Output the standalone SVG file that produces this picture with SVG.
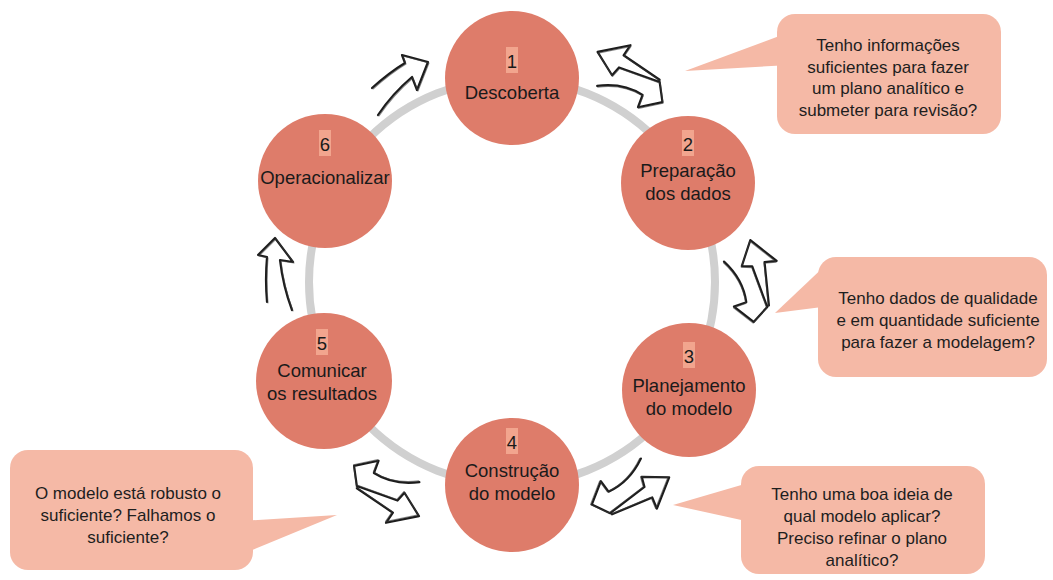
<svg xmlns="http://www.w3.org/2000/svg" xmlns:xlink="http://www.w3.org/1999/xlink" width="1053" height="580" viewBox="0 0 1053 580">
  <style>
    .ring { fill: none; stroke: #d0d0d0; stroke-width: 8; }
    .node { fill: #de7c6a; }
    .num-bg { fill: #f2a58e; }
    .label { font-family: "Liberation Sans", Arial, sans-serif; font-size: 18.5px; fill: #1a1a1a; text-anchor: middle; }
    .bubble { fill: #f5b9a6; }
    .note { font-family: "Liberation Sans", Arial, sans-serif; font-size: 17px; fill: #1e1e1e; text-anchor: middle; }
    .sk { fill: #ffffff; stroke: #1c1c1c; stroke-width: 2.2; stroke-linejoin: round; stroke-linecap: round; }
    .sk2 { fill: none; stroke: #3a3a3a; stroke-width: 1.1; stroke-opacity: 0.6; stroke-linejoin: round; stroke-linecap: round; }
  </style>
  <defs>
    <!-- hand-drawn two-way arrow, open line on its lower shaft -->
    <path id="twoWay" d="M -26,22 Q -4,8 19,11 L 20,24 L 40,9 L 29,-8 L -14,-4 L -17,6 L -40,-9 L -13,-29 L -15,-17 L 28,-10"/>
  </defs>

  <rect width="1053" height="580" fill="#ffffff"/>

  <!-- cycle ring -->
  <circle class="ring" cx="512" cy="282" r="203"/>

  <!-- connectors -->
  <g id="connectors">
    <g transform="translate(630,77) rotate(25)">
      <use xlink:href="#twoWay" class="sk"/>
      <use xlink:href="#twoWay" class="sk2" transform="translate(1,0.8)"/>
    </g>
    <g transform="translate(752,281) rotate(75)">
      <use xlink:href="#twoWay" class="sk"/>
      <use xlink:href="#twoWay" class="sk2" transform="translate(1,0.8)"/>
    </g>
    <g transform="translate(630.5,491) rotate(148)">
      <use xlink:href="#twoWay" class="sk"/>
      <use xlink:href="#twoWay" class="sk2" transform="translate(1,0.8)"/>
    </g>
    <g transform="translate(386.5,491) rotate(205)">
      <use xlink:href="#twoWay" class="sk"/>
      <use xlink:href="#twoWay" class="sk2" transform="translate(1,0.8)"/>
    </g>
    <!-- 5 to 6 -->
    <path class="sk" d="M 267,302 Q 265,280 267,257 L 258,255 L 275,238 L 293,262 L 280,260 Q 283,286 292,310"/>
    <path class="sk2" d="M 268,303 Q 266,281 268,258 L 259,256 L 276,239 L 294,263 L 281,261 Q 284,287 293,311"/>
    <!-- 6 to 1 -->
    <path class="sk" d="M 372,88 Q 390,72 405,63 L 402,55 L 428,62 L 417,90 L 412,77 Q 392,94 378,115"/>
    <path class="sk2" d="M 373,89 Q 391,73 406,64 L 403,56 L 429,63 L 418,91 L 413,78 Q 393,95 379,116"/>
  </g>

  <!-- stage nodes -->
  <g id="node1">
    <circle class="node" cx="512" cy="78" r="67"/>
    <rect class="num-bg" x="506" y="47" width="12" height="26"/>
    <text class="label" x="512" y="68">1</text>
    <text class="label" x="512" y="99">Descoberta</text>
  </g>
  <g id="node2">
    <circle class="node" cx="688" cy="183" r="67"/>
    <rect class="num-bg" x="682" y="130" width="12" height="26"/>
    <text class="label" x="688" y="151">2</text>
    <text class="label" x="688" y="177">Preparação</text>
    <text class="label" x="688" y="200">dos dados</text>
  </g>
  <g id="node3">
    <circle class="node" cx="689" cy="390" r="67"/>
    <rect class="num-bg" x="683" y="342" width="12" height="26"/>
    <text class="label" x="689" y="363">3</text>
    <text class="label" x="689" y="392">Planejamento</text>
    <text class="label" x="689" y="415">do modelo</text>
  </g>
  <g id="node4">
    <circle class="node" cx="512" cy="485" r="67"/>
    <rect class="num-bg" x="506" y="428" width="12" height="26"/>
    <text class="label" x="512" y="449">4</text>
    <text class="label" x="512" y="477">Construção</text>
    <text class="label" x="512" y="500">do modelo</text>
  </g>
  <g id="node5">
    <circle class="node" cx="324" cy="381" r="68"/>
    <rect class="num-bg" x="316" y="329" width="12" height="26"/>
    <text class="label" x="322" y="350">5</text>
    <text class="label" x="322" y="377">Comunicar</text>
    <text class="label" x="322" y="400">os resultados</text>
  </g>
  <g id="node6">
    <circle class="node" cx="325" cy="181" r="67"/>
    <rect class="num-bg" x="319" y="130" width="12" height="26"/>
    <text class="label" x="325" y="151">6</text>
    <text class="label" x="325" y="184">Operacionalizar</text>
  </g>

  <!-- question callouts -->
  <g id="note1">
    <polygon class="bubble" points="685,71 790,32 790,65"/>
    <rect class="bubble" x="777" y="14" width="224" height="120" rx="18"/>
    <text class="note" x="888" y="51">Tenho informações</text>
    <text class="note" x="888" y="73">suficientes para fazer</text>
    <text class="note" x="888" y="94">um plano analítico e</text>
    <text class="note" x="888" y="116">submeter para revisão?</text>
  </g>
  <g id="note2">
    <polygon class="bubble" points="775,313 830,261 830,306"/>
    <rect class="bubble" x="818" y="257" width="229" height="120" rx="18"/>
    <text class="note" x="938" y="304">Tenho dados de qualidade</text>
    <text class="note" x="938" y="326">e em quantidade suficiente</text>
    <text class="note" x="938" y="348">para fazer a modelagem?</text>
  </g>
  <g id="note3">
    <polygon class="bubble" points="673,505 755,481 755,523"/>
    <rect class="bubble" x="741" y="466" width="244" height="108" rx="18"/>
    <text class="note" x="862" y="500">Tenho uma boa ideia de</text>
    <text class="note" x="862" y="522">qual modelo aplicar?</text>
    <text class="note" x="862" y="544">Preciso refinar o plano</text>
    <text class="note" x="862" y="566">analítico?</text>
  </g>
  <g id="note4">
    <polygon class="bubble" points="337,515 240,521 240,555"/>
    <rect class="bubble" x="10" y="450" width="243" height="120" rx="18"/>
    <text class="note" x="128" y="499">O modelo está robusto o</text>
    <text class="note" x="128" y="521">suficiente? Falhamos o</text>
    <text class="note" x="128" y="543">suficiente?</text>
  </g>
</svg>
